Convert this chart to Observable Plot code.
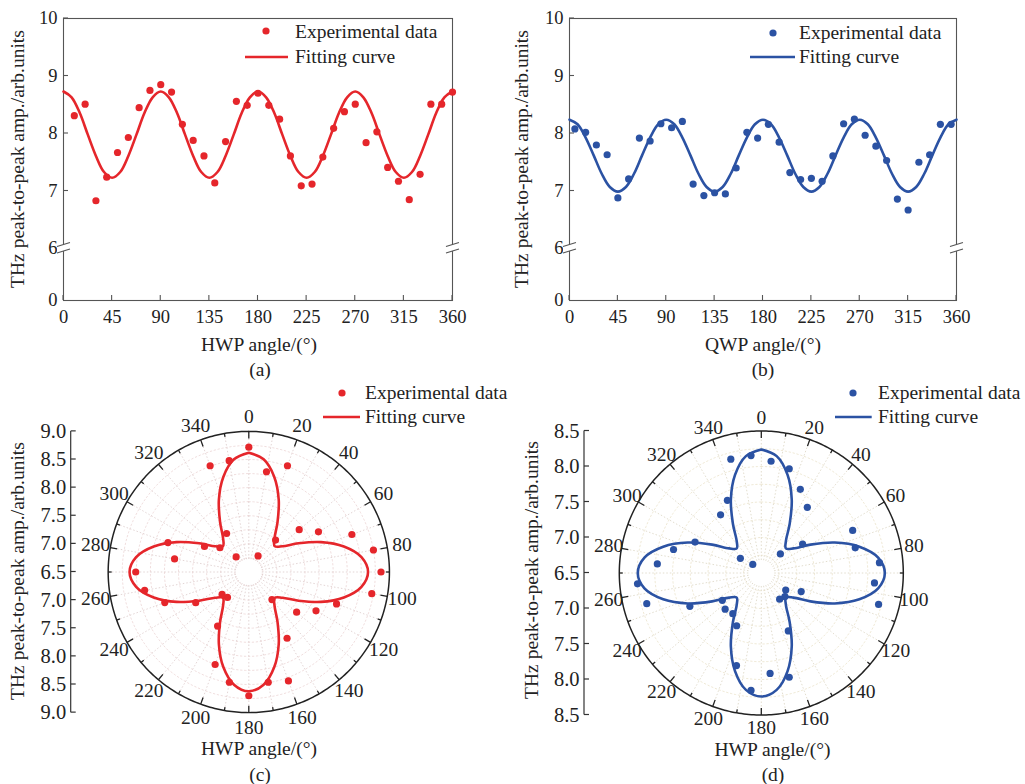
<!DOCTYPE html>
<html><head><meta charset="utf-8">
<script src="https://cdn.jsdelivr.net/npm/d3@7"></script>
<script src="https://cdn.jsdelivr.net/npm/@observablehq/plot@0.6"></script>
<style>
body{margin:0;background:#fff;}
#root{position:relative;width:1025px;height:784px;overflow:hidden;font-family:"Liberation Serif","Times New Roman",serif;color:#222;background:#fff;}
.abs{position:absolute;white-space:nowrap;line-height:1;}
.c{transform:translate(-50%,-50%);}
.l{transform:translate(0,-50%);}
.rot{transform:translate(-50%,-50%) rotate(-90deg);}
</style></head><body><div id="root"></div>
<script>
// ---------------- DATA ----------------
const RED = "#e5262b", BLUE = "#2b52a3";
// (a) HWP scan, experimental
const aAngles = [10,20,30,40,50,60,70,80,90,100,110,120,130,140,150,160,170,180,190,200,210,220,230,240,250,260,270,280,290,300,310,320,330,340,350,360];
const aValues = [8.31,8.51,6.83,7.24,7.67,7.93,8.45,8.75,8.85,8.72,8.16,7.88,7.61,7.14,7.86,8.56,8.49,8.70,8.49,8.25,7.61,7.09,7.12,7.59,8.09,8.38,8.51,7.84,8.03,7.41,7.17,6.85,7.29,8.51,8.51,8.72];
// (b) QWP scan, experimental
const bAngles = [5,15,25,35,45,55,65,75,85,95,105,115,125,135,145,155,165,175,185,195,205,215,225,235,245,255,265,275,285,295,305,315,325,335,345,355];
const bValues = [8.08,8.02,7.80,7.63,6.88,7.21,7.92,7.87,8.17,8.10,8.21,7.12,6.92,6.97,6.95,7.40,8.02,7.92,8.16,7.85,7.32,7.20,7.22,7.17,7.61,8.17,8.25,7.97,7.78,7.53,6.86,6.67,7.50,7.63,8.16,8.16];
// fitting curves read every 7.5 degrees
const fitAngles = [0,7.5,15,22.5,30,37.5,45,52.5,60,67.5,75,82.5,90,97.5,105,112.5,120,127.5,135,142.5,150,157.5,165,172.5,180,187.5,195,202.5,210,217.5,225,232.5,240,247.5,255,262.5,270,277.5,285,292.5,300,307.5,315,322.5,330,337.5,345,352.5,360];
const aFit = [8.73,8.63,8.36,7.98,7.61,7.33,7.23,7.33,7.61,7.98,8.36,8.63,8.73,8.63,8.36,7.98,7.61,7.33,7.23,7.33,7.61,7.98,8.36,8.63,8.73,8.63,8.36,7.98,7.61,7.33,7.23,7.33,7.61,7.98,8.36,8.63,8.73,8.63,8.36,7.98,7.61,7.33,7.23,7.33,7.61,7.98,8.36,8.63,8.73];
const bFit = [8.24,8.16,7.93,7.62,7.30,7.07,6.99,7.07,7.30,7.62,7.93,8.16,8.24,8.16,7.93,7.62,7.30,7.07,6.99,7.07,7.30,7.62,7.93,8.16,8.24,8.16,7.93,7.62,7.30,7.07,6.99,7.07,7.30,7.62,7.93,8.16,8.24,8.16,7.93,7.62,7.30,7.07,6.99,7.07,7.30,7.62,7.93,8.16,8.24];
const cFit = [8.62,8.52,8.25,7.89,7.52,7.25,7.15,7.25,7.52,7.89,8.25,8.52,8.62,8.52,8.25,7.89,7.52,7.25,7.15,7.25,7.52,7.89,8.25,8.52,8.62,8.52,8.25,7.89,7.52,7.25,7.15,7.25,7.52,7.89,8.25,8.52,8.62,8.52,8.25,7.89,7.52,7.25,7.15,7.25,7.52,7.89,8.25,8.52,8.62];
// tick labels
const xTicks = [0,45,90,135,180,225,270,315,360];
const yTicks = [0,6,7,8,9,10];
const radialTicksC = [-2.5,-2,-1.5,-1,-0.5,0,0.5,1,1.5,2,2.5];
const radialTicksD = [-2,-1.5,-1,-0.5,0,0.5,1,1.5,2];
const angleLabels = [0,20,40,60,80,100,120,140,160,180,200,220,240,260,280,300,320,340];
const polarBase = 6.5;
const yTitle = "THz peak-to-peak amp./arb.units";

const ptsA = aAngles.map((a,i)=>({a, v:aValues[i]}));
const ptsB = bAngles.map((a,i)=>({a, v:bValues[i]}));
const fitA = fitAngles.map((a,i)=>({a, v:aFit[i]}));
const fitB = fitAngles.map((a,i)=>({a, v:bFit[i]}));
const fitC = fitAngles.map((a,i)=>({a, v:cFit[i]}));

// broken y axis: 0..6 compressed into a short segment below the break
const BREAK = 6, LOW_SPAN = 52/57.5;
const bk = v => v >= BREAK ? v : BREAK - (BREAK - v) * LOW_SPAN / BREAK;
const unbk = u => u >= BREAK ? u : BREAK - (BREAK - u) * BREAK / LOW_SPAN;

// ---------------- HELPERS ----------------
const root = document.getElementById("root");
const FONT = '"Liberation Serif","Times New Roman",serif';
function put(el, left, top){ el.style.position="absolute"; el.style.left=left+"px"; el.style.top=top+"px"; root.appendChild(el); }
function txt(text, x, y, cls, size){ const d=document.createElement("div"); d.className="abs "+cls; d.textContent=text; d.style.left=x+"px"; d.style.top=y+"px"; d.style.fontSize=(size||19.5)+"px"; root.appendChild(d); }
function legend(color, dot, line, textX, y1, y2){
  const s1 = d3.create("svg").attr("width",12).attr("height",12);
  s1.append("circle").attr("cx",6).attr("cy",6).attr("r",3.6).attr("fill",color);
  put(s1.node(), dot[0]-6, dot[1]-6);
  const w = line[1]-line[0];
  const s2 = d3.create("svg").attr("width",w).attr("height",6);
  s2.append("line").attr("x1",0).attr("x2",w).attr("y1",3).attr("y2",3).attr("stroke",color).attr("stroke-width",2.6);
  put(s2.node(), line[0], line[2]-3);
  txt("Experimental data", textX, y1, "l", 19.5);
  txt("Fitting curve", textX, y2, "l", 19.5);
}
const RAD = Math.PI/180;

function cartDecor(){
  return (index, scales, values, dims) => {
    const x = scales.x, y = scales.y;
    const L = dims.marginLeft, Rt = dims.width - dims.marginRight, B = dims.height - dims.marginBottom;
    const g = d3.create("svg:g").attr("fill","none").attr("stroke","#555").attr("stroke-width",1.1);
    for (const t of xTicks) g.append("line").attr("x1",x(t)).attr("x2",x(t)).attr("y1",B).attr("y2",B-5);
    for (const t of yTicks) if (t !== 0) g.append("line").attr("x1",L).attr("x2",L+5).attr("y1",y(bk(t))).attr("y2",y(bk(t)));
    const yb = y(BREAK);
    for (const X of [L, Rt]) {
      g.append("polygon").attr("points",`${X-6},${yb-1.5} ${X+7},${yb-5.5} ${X+7},${yb+1} ${X-6},${yb+5}`).attr("fill","#fff").attr("stroke","none");
      g.append("line").attr("x1",X-6).attr("y1",yb-1.5).attr("x2",X+7).attr("y2",yb-5.5);
      g.append("line").attr("x1",X-6).attr("y1",yb+5).attr("x2",X+7).attr("y2",yb+1);
    }
    return g.node();
  };
}

function cartPlot({pts, fit, color, marginLeft, right, width}){
  return Plot.plot({
    width, height: 330,
    marginLeft, marginRight: width - right, marginTop: 18, marginBottom: 30,
    style: {fontFamily: FONT, fontSize: "18.5px", color: "#222", background: "transparent", overflow: "visible"},
    x: {domain: [0,360], range: [marginLeft, right], ticks: xTicks, tickSize: 0, tickPadding: 9, label: null},
    y: {domain: [bk(0), 10], range: [300, 18], ticks: yTicks.map(bk), tickFormat: u => String(Math.round(unbk(u))), tickSize: 0, tickPadding: 6, label: null},
    marks: [
      Plot.frame({stroke: "#555", strokeWidth: 1.1}),
      cartDecor(),
      Plot.line(fit, {x: "a", y: d => bk(d.v), stroke: color, strokeWidth: 2.6, curve: "catmull-rom"}),
      Plot.dot(pts, {x: "a", y: d => bk(d.v), r: 3.6, fill: color})
    ]
  });
}

function leftAxisDecor(ticks){
  return (index, scales, values, dims) => {
    const y = scales.y, X = dims.marginLeft;
    const g = d3.create("svg:g").attr("stroke","#333").attr("stroke-width",1.2);
    g.append("line").attr("x1",X).attr("x2",X).attr("y1",y(ticks[0])).attr("y2",y(ticks[ticks.length-1]));
    for (const t of ticks) g.append("line").attr("x1",X).attr("x2",X+5).attr("y1",y(t)).attr("y2",y(t));
    return g.node();
  };
}

function polarPlot({pts, fit, color, k, R, cx, cy, width, marginLeft, radialTicks, gridColor, spokeColor, labelGap}){
  const px = d => (d.v - polarBase) * Math.sin(d.a*RAD);
  const py = d => (d.v - polarBase) * Math.cos(d.a*RAD);
  const hole = 13 / k;
  const circles = [];
  for (let r = 0.25; r < R - 1e-9; r += 0.25) for (let a = 0; a <= 360; a += 2) circles.push({r, a});
  const spokes = d3.range(0, 360, 10);
  const ring = d3.range(0, 361, 1);
  const lr = R + labelGap / k;
  return Plot.plot({
    width, height: 360, marginLeft, marginTop: 0, marginRight: 0, marginBottom: 0,
    style: {fontFamily: FONT, fontSize: "20.5px", color: "#222", background: "transparent", overflow: "visible"},
    x: {domain: [-1, 1], range: [cx - k, cx + k], axis: null},
    y: {domain: [-R, R], range: [cy + R*k, cy - R*k], ticks: radialTicks, tickFormat: d => (polarBase + Math.abs(d)).toFixed(1), tickSize: 0, tickPadding: 5, label: null},
    marks: [
      Plot.line(circles, {x: d => d.r*Math.sin(d.a*RAD), y: d => d.r*Math.cos(d.a*RAD), z: "r", stroke: gridColor, strokeWidth: 0.8, strokeDasharray: "1.5,2.5"}),
      Plot.link(spokes, {x1: a => hole*Math.sin(a*RAD), y1: a => hole*Math.cos(a*RAD), x2: a => R*Math.sin(a*RAD), y2: a => R*Math.cos(a*RAD), stroke: spokeColor, strokeWidth: 0.8, strokeDasharray: "1.5,2"}),
      Plot.line(ring, {x: a => R*Math.sin(a*RAD), y: a => R*Math.cos(a*RAD), stroke: "#222", strokeWidth: 1.5}),
      Plot.link(spokes, {x1: a => R*Math.sin(a*RAD), y1: a => R*Math.cos(a*RAD), x2: a => (R - (a%20===0?7:3.5)/k)*Math.sin(a*RAD), y2: a => (R - (a%20===0?7:3.5)/k)*Math.cos(a*RAD), stroke: "#222", strokeWidth: 1.3}),
      Plot.text(angleLabels, {x: a => lr*Math.sin(a*RAD), y: a => lr*Math.cos(a*RAD), text: a => String(a), fontSize: 19.5, fill: "#222"}),
      leftAxisDecor(radialTicks),
      Plot.line(fit, {x: px, y: py, stroke: color, strokeWidth: 2.6, curve: "catmull-rom"}),
      Plot.dot(pts, {x: px, y: py, r: 3.6, fill: color})
    ]
  });
}

// ---------------- PANELS ----------------
put(cartPlot({pts: ptsA, fit: fitA, color: RED, marginLeft: 63, right: 452, width: 480}), 0, 0);
put(cartPlot({pts: ptsB, fit: fitB, color: BLUE, marginLeft: 69, right: 456, width: 480}), 500, 0);
put(polarPlot({pts: ptsA, fit: fitC, color: RED, k: 56.25, R: 2.5, cx: 248.3, cy: 191.5, width: 512, marginLeft: 70.7, radialTicks: radialTicksC, gridColor: "#ecd6d6", spokeColor: "#dccaca", labelGap: 15}), 0, 380);
put(polarPlot({pts: ptsB, fit: fitB, color: BLUE, k: 71, R: 2.0, cx: 248.8, cy: 192.5, width: 513, marginLeft: 72, radialTicks: radialTicksD, gridColor: "#ebe3cc", spokeColor: "#dbd4c2", labelGap: 13}), 512, 380);

// titles, captions
txt(yTitle, 18, 159, "rot");
txt(yTitle, 521.7, 159, "rot");
txt("HWP angle/(°)", 259, 345, "c");
txt("(a)", 260, 370, "c");
txt("QWP angle/(°)", 763, 345, "c");
txt("(b)", 763, 370, "c");
txt(yTitle, 18.3, 571, "rot");
txt("HWP angle/(°)", 259, 749, "c");
txt("(c)", 260, 775, "c");
txt(yTitle, 531.7, 570, "rot");
txt("HWP angle/(°)", 772.5, 749.5, "c");
txt("(d)", 773, 775, "c");

// legends
legend(RED, [265.7, 30.7], [245, 288, 56.7], 295, 32, 57);
legend(BLUE, [772.7, 33.3], [750, 795, 57], 799, 32.5, 57);
legend(RED, [341.7, 393.3], [323, 360, 416.7], 365, 392.7, 416.7);
legend(BLUE, [853.3, 393.3], [835, 871.7, 416.7], 878, 392.7, 416.7);
</script></body></html>
